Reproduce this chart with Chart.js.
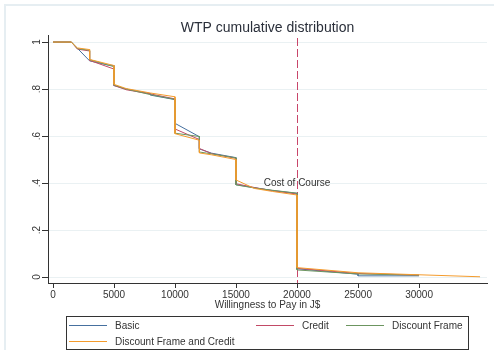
<!DOCTYPE html>
<html>
<head>
<meta charset="utf-8">
<script src="https://cdn.jsdelivr.net/npm/chart.js@4/dist/chart.umd.min.js"></script>
<style>
html, body { margin: 0; padding: 0; background: #fff; }
</style>
</head>
<body>
<canvas id="wtpChart" width="494" height="350"></canvas>
<script>
// WTP cumulative distribution, one pair of arrays per treatment
const basicWtp   = [0, 1500, 3000, 4500, 5000, 5000, 6000, 8000, 8000, 10000, 10000, 12000, 12000, 13000, 15000, 15000, 16500, 18000, 20000, 20000, 25000, 25000, 30000];
const basicShare = [1, 1, 0.92, 0.902, 0.9, 0.815, 0.8, 0.78, 0.774, 0.755, 0.654, 0.597, 0.545, 0.527, 0.508, 0.393, 0.38, 0.368, 0.356, 0.035, 0.012, 0.005, 0.005];

const creditWtp   = [0, 1500, 2000, 3000, 3000, 5000, 5000, 6000, 8000, 10000, 10000, 12000, 12000, 13000, 15000, 15000, 16500, 18000, 20000, 20000, 25000, 30000];
const creditShare = [1, 1, 0.97, 0.962, 0.922, 0.885, 0.815, 0.797, 0.779, 0.758, 0.63, 0.585, 0.547, 0.525, 0.505, 0.397, 0.381, 0.367, 0.353, 0.037, 0.015, 0.008];

const frameWtp   = [0, 1500, 2000, 3000, 3000, 5000, 5000, 6000, 8000, 10000, 10000, 12000, 12000, 13000, 15000, 15000, 16500, 18000, 20000, 20000, 25000, 30000];
const frameShare = [1, 1, 0.972, 0.965, 0.925, 0.895, 0.817, 0.8, 0.776, 0.756, 0.612, 0.598, 0.532, 0.524, 0.507, 0.392, 0.379, 0.369, 0.357, 0.03, 0.013, 0.008];

const bothWtp   = [0, 1500, 2000, 3000, 3000, 5000, 5000, 6000, 8000, 10000, 10000, 12000, 12000, 13000, 15000, 15000, 16500, 18000, 20000, 20000, 25000, 35000];
const bothShare = [1, 1, 0.975, 0.968, 0.926, 0.9, 0.82, 0.802, 0.783, 0.767, 0.61, 0.582, 0.528, 0.52, 0.5, 0.413, 0.377, 0.364, 0.349, 0.04, 0.018, 0.001];

const seriesNames = ["Basic", "Credit", "Discount Frame", "Discount Frame and Credit"];
const xTicks = [0, 5000, 10000, 15000, 20000, 25000, 30000];
const yTicks = [0, 0.2, 0.4, 0.6, 0.8, 1];
const yTickLabels = ["0", ".2", ".4", ".6", ".8", "1"];
const costOfCourse = 20000;
const costLabel = "Cost of Course";

const FONT = "'Liberation Sans', Arial, sans-serif";
const colors = ["#46709f", "#c24a66", "#6c9560", "#f49b2c"];

function toPoints(xs, ys) {
	return xs.map((x, i) => ({ x: x, y: ys[i] }));
}

const decor = {
	id: "decor",
	beforeDraw(chart) {
		const ctx = chart.ctx;
		ctx.save();
		ctx.strokeStyle = "#e6eef2";
		ctx.lineWidth = 2;
		ctx.strokeRect(5, 5, 600, 600);
		ctx.restore();
	},
	beforeDatasetsDraw(chart) {
		const ctx = chart.ctx;
		const area = chart.chartArea;
		const xs = chart.scales.x;
		const px = Math.round(xs.getPixelForValue(costOfCourse)) + 0.5;
		ctx.save();
		ctx.strokeStyle = "#c8466a";
		ctx.lineWidth = 1;
		ctx.setLineDash([8, 3]);
		ctx.beginPath();
		ctx.moveTo(px, area.top + 3);
		ctx.lineTo(px, area.bottom);
		ctx.stroke();
		ctx.restore();
	},
	afterDraw(chart) {
		const ctx = chart.ctx;
		const xs = chart.scales.x;
		const ys = chart.scales.y;
		const area = chart.chartArea;
		ctx.save();
		// title
		ctx.fillStyle = "#2a2f3a";
		ctx.font = "14px " + FONT;
		ctx.textAlign = "center";
		ctx.textBaseline = "alphabetic";
		ctx.fillText("WTP cumulative distribution", (area.left + area.right) / 2, 32);

		// rotated y tick labels
		ctx.fillStyle = "#333";
		ctx.font = "10px " + FONT;
		yTicks.forEach((v, i) => {
			ctx.save();
			ctx.translate(40, ys.getPixelForValue(v));
			ctx.rotate(-Math.PI / 2);
			ctx.textAlign = "center";
			ctx.textBaseline = "alphabetic";
			ctx.fillText(yTickLabels[i], 0, 0);
			ctx.restore();
		});

		// cost label
		ctx.textAlign = "center";
		ctx.textBaseline = "middle";
		ctx.fillText(costLabel, xs.getPixelForValue(costOfCourse), ys.getPixelForValue(0.4));

		// legend box
		ctx.strokeStyle = "#333";
		ctx.lineWidth = 1;
		ctx.strokeRect(66.5, 316.5, 402, 33);
		const slots = [[69, 325], [256, 325], [346, 325], [69, 341]];
		ctx.textAlign = "left";
		ctx.textBaseline = "middle";
		chart.data.datasets.forEach((ds, i) => {
			const [lx, ly] = slots[i];
			ctx.strokeStyle = ds.borderColor;
			ctx.beginPath();
			ctx.moveTo(lx, ly + 0.5);
			ctx.lineTo(lx + 38, ly + 0.5);
			ctx.stroke();
			ctx.fillStyle = "#333";
			ctx.fillText(ds.label, lx + 46, ly + 1);
		});
		ctx.restore();
	}
};

const seriesX = [basicWtp, creditWtp, frameWtp, bothWtp];
const seriesY = [basicShare, creditShare, frameShare, bothShare];

new Chart(document.getElementById("wtpChart"), {
	type: "line",
	data: {
		datasets: seriesNames.map((name, i) => ({
			label: name,
			data: toPoints(seriesX[i], seriesY[i]),
			borderColor: colors[i],
			borderWidth: 1,
			pointRadius: 0,
			tension: 0,
			fill: false,
			order: 3 - i,
		})),
	},
	options: {
		responsive: false,
		animation: false,
		events: [],
		layout: { padding: { left: 0, top: 35, right: 7, bottom: 0 } },
		plugins: {
			legend: { display: false },
			title: { display: false },
			tooltip: { enabled: false },
		},
		scales: {
			x: {
				type: "linear",
				min: -410,
				max: 35570,
				afterBuildTicks: (s) => { s.ticks = xTicks.map((v) => ({ value: v })); },
				afterFit: (s) => { s.height = 67; },
				ticks: {
					color: "#333",
					font: { family: FONT, size: 10 },
					padding: 1,
					maxRotation: 0,
					callback: (v) => String(v),
				},
				grid: { drawOnChartArea: false, tickLength: 5, tickColor: "#333" },
				border: { color: "#333", width: 1 },
				title: {
					display: true,
					text: "Willingness to Pay in J$",
					color: "#333",
					font: { family: FONT, size: 10 },
					padding: { top: 0, bottom: 39 },
				},
			},
			y: {
				type: "linear",
				min: -0.0255,
				max: 1.03,
				afterBuildTicks: (s) => { s.ticks = yTicks.map((v) => ({ value: v })); },
				afterFit: (s) => { s.width = 48; },
				ticks: { display: false },
				grid: { color: "#eaf1f3", tickLength: 6, tickColor: "#333" },
				border: { color: "#333", width: 1 },
			},
		},
	},
	plugins: [decor],
});
</script>
</body>
</html>
